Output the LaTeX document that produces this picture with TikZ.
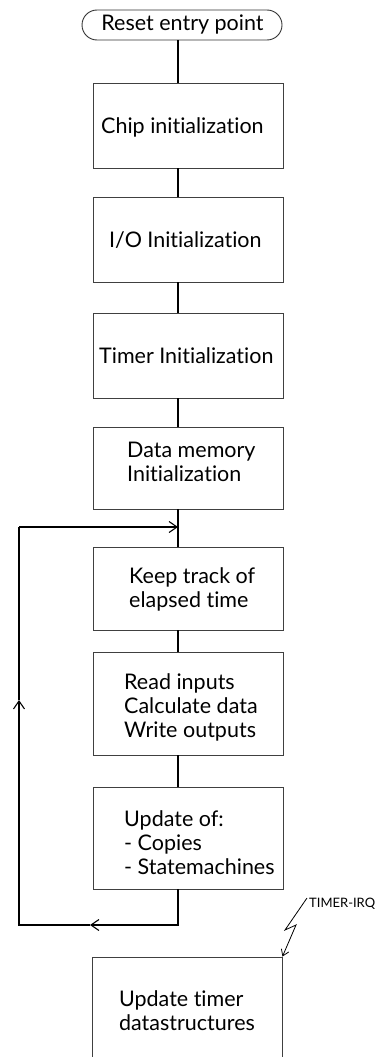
\documentclass[tikz,border=0pt]{standalone}
\usepackage{fontspec}
\setmainfont[Ligatures=NoCommon]{Lato}
\usetikzlibrary{arrows.meta}
\begin{document}
\begin{tikzpicture}[x=1pt,y=-1pt,
  box/.style={draw=black!75,line width=0.9pt,rectangle,minimum width=190pt,inner sep=0pt},
  startbox/.style={draw=black!80,line width=0.9pt,rounded corners=15pt,minimum width=200pt,minimum height=30pt,inner sep=0pt},
  lbl/.style={font=\fontsize{21.5}{24}\selectfont,align=left,inner sep=0pt},
  conn/.style={line width=1.3pt},
  tip/.style={-{Straight Barb[length=8pt,width=11pt,line width=1.1pt]}},
  bolt/.style={line width=0.8pt}]
\useasboundingbox (0,0) rectangle (385,1057);

% fixed x of the vertical flow line
\coordinate (spine) at (178,0);

% start terminal
\node[startbox] (reset) at (182,25) {};
\node[lbl] (treset) at (182.5,25) {Reset entry point};

% process boxes
\node[box,minimum height=85pt]  (chip) at (188,125.5) {};
\node[box,minimum height=85pt]  (io)   at (188,239.5) {};
\node[box,minimum height=85pt]  (tmr)  at (188,355.5) {};
\node[box,minimum height=82pt]  (data) at (188,468) {};
\node[box,minimum height=83pt]  (keep) at (188,588.5) {};
\node[box,minimum height=103pt] (rw)   at (188,703.5) {};
\node[box,minimum height=102pt] (upd)  at (188,838) {};
\node[box,minimum height=130pt] (tds)  at (187,1022) {};

% box texts
\node[lbl,anchor=west] (tchip) at (101,127) {Chip initialization};
\node[lbl,anchor=west] (tio)   at (109,240) {I/O Initialization};
\node[lbl,anchor=west] (ttmr)  at (99,356) {Timer Initialization};
\node[lbl,anchor=west] (tdata) at (127,462) {Data memory\\Initialization};
\node[lbl,anchor=west] (tkeep) at (129,589) {Keep track of\\elapsed time};
\node[lbl,anchor=west] (trw)   at (124,707) {Read inputs\\Calculate data\\Write outputs};
\node[lbl,anchor=west] (tupd)  at (124,843) {Update of:\\- Copies\\- Statemachines};
\node[lbl] (ttds) at (187,1011) {Update timer\\datastructures};

% main flow
\draw[conn] (reset.south -| spine) -- (chip.north -| spine);
\draw[conn] (chip.south -| spine) -- (io.north -| spine);
\draw[conn] (io.south -| spine) -- (tmr.north -| spine);
\draw[conn] (tmr.south -| spine) -- (data.north -| spine);
\draw[conn] (data.south -| spine) -- (keep.north -| spine);
\draw[conn] (keep.south -| spine) -- (rw.north -| spine);
\draw[conn] (rw.south -| spine) -- (upd.north -| spine);

% main loop back to the time keeping step
\coordinate (lb) at (19,925);
\coordinate (lt) at (19,527);
\coordinate (ba) at (90,925);
\coordinate (la) at (19,700);
\draw[conn,tip] (upd.south -| spine) |- (ba);
\draw[conn,tip] (ba) -- (lb) -- (la);
\draw[conn] (la) -- (lt);
\draw[conn,tip] (lt) -- (lt -| spine);

% timer interrupt
\coordinate (b1) at (307,898);
\coordinate (b2) at (285,930);
\coordinate (b3) at (296,925);
\node[font=\fontsize{13}{15}\selectfont,anchor=west,inner sep=0pt] (irq) at (309,904) {TIMER-IRQ};
\draw[bolt,-{Straight Barb[length=6pt,width=8pt,line width=0.8pt]}] (b1) -- (b2) -- (b3) -- (tds.north east);
\end{tikzpicture}
\end{document}
